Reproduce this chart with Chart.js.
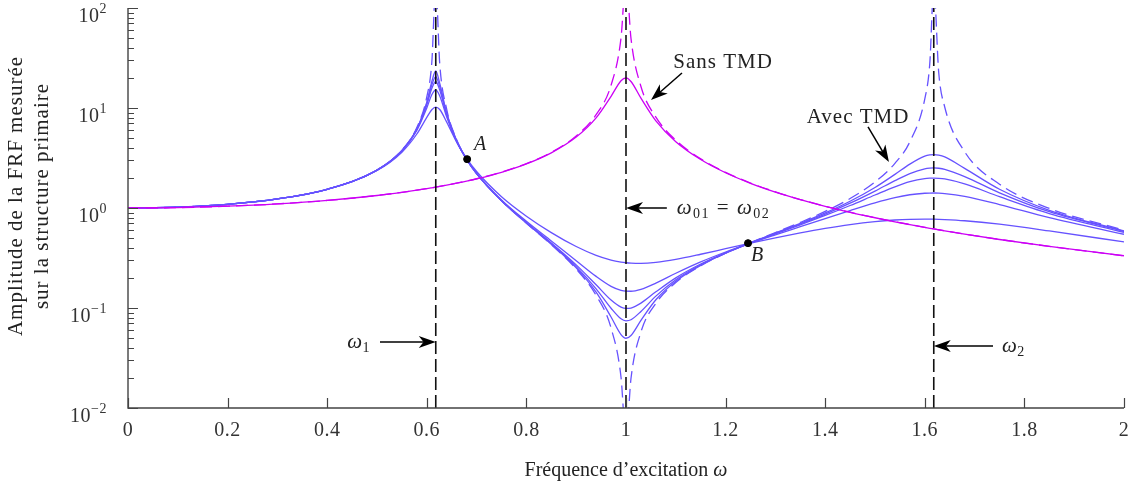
<!DOCTYPE html>
<html>
<head>
<meta charset="utf-8">
<script src="https://cdn.jsdelivr.net/npm/chart.js@4/dist/chart.umd.min.js"></script>
<style>
  html, body { margin: 0; padding: 0; background: #fff; }
  #wrap { width: 1139px; height: 484px; }
</style>
</head>
<body>
<div id="wrap"><canvas id="frf" width="1139" height="484"></canvas></div>
<script>
// excitation frequency (normalised)
const omega = [0, 0.1, 0.2, 0.3, 0.4, 0.5, 0.55, 0.58, 0.6, 0.61, 0.618, 0.626, 0.64, 0.66, 0.68, 0.7, 0.75, 0.8, 0.85, 0.9,
  0.94, 0.97, 0.99, 1.0, 1.01, 1.03, 1.06, 1.1, 1.15, 1.2, 1.25, 1.3, 1.35, 1.4, 1.45, 1.5, 1.54, 1.57, 1.6, 1.61,
  1.618, 1.628, 1.64, 1.68, 1.75, 1.85, 2.0];

// Sans TMD
const sansTmdUndamped = [1, 1.010, 1.042, 1.099, 1.190, 1.333, 1.434, 1.507, 1.563, 1.593, 1.618, 1.644, 1.694, 1.772, 1.860, 1.961, 2.286, 2.778, 3.604, 5.263,
  8.591, 16.92, 50.25, 200, 49.75, 16.42, 8.091, 4.762, 3.101, 2.273, 1.778, 1.449, 1.216, 1.042, 0.907, 0.800, 0.729, 0.683, 0.641, 0.628,
  0.618, 0.606, 0.592, 0.549, 0.485, 0.413, 0.333];
const sansTmd = [1, 1.010, 1.042, 1.099, 1.190, 1.333, 1.433, 1.506, 1.561, 1.591, 1.616, 1.642, 1.691, 1.769, 1.856, 1.956, 2.277, 2.761, 3.562, 5.122,
  7.966, 13.08, 18.75, 20.0, 18.40, 12.54, 7.436, 4.607, 3.053, 2.252, 1.767, 1.443, 1.212, 1.039, 0.905, 0.799, 0.728, 0.682, 0.640, 0.627,
  0.617, 0.605, 0.591, 0.548, 0.484, 0.413, 0.333];

// Avec TMD
const avecTmdUndamped = [1, 1.021, 1.089, 1.233, 1.540, 2.400, 3.791, 6.383, 12.90, 28.34, 165, 27.57, 9.674, 4.822, 3.101, 2.218, 1.179, 0.7053, 0.4299, 0.2455,
  0.1338, 0.06305, 0.02031, 0.005, 0.01971, 0.05761, 0.1115, 0.1801, 0.2647, 0.3530, 0.4514, 0.5684, 0.7177, 0.9245, 1.243, 1.818, 2.797, 4.593, 12.34, 27.78,
  160, 22.49, 10.23, 3.654, 1.731, 0.9904, 0.600];
const avecTmd1 = [1, 1.021, 1.089, 1.233, 1.539, 2.394, 3.759, 6.204, 11.45, 18.32, 23.43, 17.60, 8.854, 4.698, 3.065, 2.205, 1.178, 0.7074, 0.4337, 0.2516,
  0.1438, 0.0813, 0.05426, 0.04981, 0.0531, 0.07513, 0.1208, 0.1852, 0.2670, 0.3531, 0.4487, 0.5615, 0.7029, 0.8928, 1.169, 1.604, 2.168, 2.748, 3.300, 3.397,
  3.420, 3.379, 3.239, 2.490, 1.540, 0.949, 0.590];
const avecTmd2 = [1, 1.021, 1.089, 1.233, 1.539, 2.393, 3.751, 6.156, 11.10, 16.93, 20.61, 16.27, 8.664, 4.671, 3.059, 2.205, 1.182, 0.7117, 0.4391, 0.2593,
  0.1556, 0.0994, 0.07797, 0.07451, 0.07634, 0.09237, 0.1315, 0.1916, 0.2705, 0.3545, 0.4478, 0.5569, 0.6921, 0.8696, 1.117, 1.476, 1.876, 2.212, 2.468, 2.507,
  2.516, 2.498, 2.439, 2.064, 1.419, 0.918, 0.582];
const avecTmd3 = [1, 1.021, 1.089, 1.233, 1.539, 2.392, 3.741, 6.100, 10.74, 15.67, 18.41, 15.10, 8.478, 4.647, 3.057, 2.208, 1.187, 0.7179, 0.4468, 0.2698,
  0.1706, 0.1201, 0.1021, 0.0990, 0.09995, 0.1119, 0.1451, 0.2003, 0.2755, 0.3567, 0.4469, 0.5517, 0.6795, 0.8427, 1.059, 1.349, 1.630, 1.834, 1.969, 1.988,
  1.992, 1.982, 1.951, 1.740, 1.298, 0.881, 0.571];
const avecTmd4 = [1, 1.021, 1.089, 1.233, 1.539, 2.388, 3.717, 5.970, 10.01, 13.57, 15.21, 13.20, 8.123, 4.608, 3.061, 2.221, 1.204, 0.7360, 0.4681, 0.2974,
  0.2071, 0.1648, 0.1503, 0.1473, 0.1470, 0.1538, 0.1774, 0.2225, 0.2891, 0.3632, 0.4457, 0.5399, 0.6508, 0.7838, 0.9434, 1.126, 1.270, 1.357, 1.405, 1.411,
  1.412, 1.407, 1.394, 1.308, 1.082, 0.801, 0.546];
const avecTmd5 = [1, 1.020, 1.089, 1.233, 1.537, 2.370, 3.614, 5.495, 8.064, 9.616, 10.22, 9.662, 7.224, 4.558, 3.135, 2.315, 1.296, 0.8278, 0.5674, 0.4117,
  0.3359, 0.3015, 0.2878, 0.2834, 0.2806, 0.2790, 0.2854, 0.3061, 0.3447, 0.3921, 0.4454, 0.5030, 0.5636, 0.6247, 0.6824, 0.7308, 0.7582, 0.7702, 0.7740, 0.7734,
  0.7723, 0.7701, 0.7663, 0.7457, 0.6885, 0.5897, 0.4578];

// natural frequencies w1, w01 = w02, w2 and the fixed points A, B
const naturalFreqs = [0.618, 1.0, 1.618];
const fixedPoints = [[0.681, 3.08], [1.245, 0.445]];
const fixedPointNames = ['A', 'B'];

// axes
const xTickValues = [0, 0.2, 0.4, 0.6, 0.8, 1, 1.2, 1.4, 1.6, 1.8, 2];
const xTickLabels = ['0', '0.2', '0.4', '0.6', '0.8', '1', '1.2', '1.4', '1.6', '1.8', '2'];
const yTickExponents = [-2, -1, 0, 1, 2];

const BLUE = '#6652ff';
const MAGENTA = '#cc00f5';
const SERIF = "'Liberation Serif', 'DejaVu Serif', serif";

const pts = ys => omega.map((x, i) => ({ x: x, y: ys[i] }));

function curve(ys, color, dashed) {
  return {
    data: pts(ys),
    borderColor: color,
    borderWidth: 1.3,
    borderDash: dashed ? [12, 6] : [],
    pointRadius: 0,
    fill: false,
    cubicInterpolationMode: 'monotone'
  };
}

const datasets = [];
datasets.push({
  type: 'scatter',
  data: fixedPoints.map(p => ({ x: p[0], y: p[1] })),
  backgroundColor: '#000',
  borderColor: '#000',
  pointRadius: 3.5,
  showLine: false
});
naturalFreqs.forEach(f => {
  datasets.push({
    data: [{ x: f, y: 0.01 }, { x: f, y: 100 }],
    borderColor: '#111',
    borderWidth: 1.6,
    borderDash: [13, 5],
    pointRadius: 0
  });
});
datasets.push(curve(sansTmd, MAGENTA, false));
datasets.push(curve(sansTmdUndamped, MAGENTA, true));
datasets.push(curve(avecTmdUndamped, BLUE, true));
[avecTmd1, avecTmd2, avecTmd3, avecTmd4, avecTmd5].forEach(s => datasets.push(curve(s, BLUE, false)));

// draw text made of runs with different fonts
function runs(ctx, parts, x, y, align, spacing) {
  ctx.letterSpacing = (spacing || 0) + 'px';
  let w = 0;
  parts.forEach(p => { ctx.font = p.font; w += ctx.measureText(p.t).width; });
  let cx = align === 'right' ? x - w : align === 'center' ? x - w / 2 : x;
  parts.forEach(p => {
    ctx.font = p.font;
    ctx.fillText(p.t, cx, y + (p.dy || 0));
    cx += ctx.measureText(p.t).width;
  });
  ctx.letterSpacing = '0px';
}

function arrow(ctx, x0, y0, x1, y1) {
  const ang = Math.atan2(y1 - y0, x1 - x0);
  const L = 17, hw = 6;
  ctx.beginPath();
  ctx.moveTo(x0, y0);
  ctx.lineTo(x1 - Math.cos(ang) * L * 0.7, y1 - Math.sin(ang) * L * 0.7);
  ctx.stroke();
  ctx.save();
  ctx.translate(x1, y1);
  ctx.rotate(ang);
  ctx.beginPath();
  ctx.moveTo(0, 0);
  ctx.lineTo(-L, -hw);
  ctx.lineTo(-L * 0.72, 0);
  ctx.lineTo(-L, hw);
  ctx.closePath();
  ctx.fill();
  ctx.restore();
}

const notes = {
  id: 'notes',
  afterDraw(chart) {
    const { ctx, chartArea: a, scales } = chart;
    const X = v => scales.x.getPixelForValue(v);
    const Y = v => scales.y.getPixelForValue(v);
    const reg = s => s + 'px ' + SERIF;
    const ital = s => 'italic ' + s + 'px ' + SERIF;
    ctx.save();

    // axis lines and inward ticks
    ctx.strokeStyle = '#444';
    ctx.lineWidth = 1.4;
    ctx.beginPath();
    ctx.moveTo(a.left, a.top);
    ctx.lineTo(a.left, a.bottom);
    ctx.lineTo(a.right, a.bottom);
    ctx.stroke();
    ctx.lineWidth = 1.2;
    ctx.beginPath();
    xTickValues.forEach(v => { const px = Math.round(X(v)) + 0.5; ctx.moveTo(px, a.bottom); ctx.lineTo(px, a.bottom - 10); });
    yTickExponents.forEach((e, i) => {
      const py = Math.round(Y(Math.pow(10, e))) + 0.5;
      ctx.moveTo(a.left, py); ctx.lineTo(a.left + 10, py);
      if (i < yTickExponents.length - 1) {
        for (let m = 2; m <= 9; m++) {
          const q = Math.round(Y(m * Math.pow(10, e))) + 0.5;
          ctx.moveTo(a.left, q); ctx.lineTo(a.left + 6, q);
        }
      }
    });
    ctx.stroke();

    // tick labels
    ctx.fillStyle = '#333';
    ctx.textBaseline = 'alphabetic';
    ctx.textAlign = 'left';
    xTickValues.forEach((v, i) => runs(ctx, [{ t: xTickLabels[i], font: reg(20) }], X(v), a.bottom + 28, 'center', 0.5));
    yTickExponents.forEach(e => {
      const py = Y(Math.pow(10, e));
      const ex = e < 0 ? '\u2212' + (-e) : String(e);
      runs(ctx, [{ t: '10', font: reg(20) }, { t: ex, font: reg(14), dy: -9 }], a.left - 21, py + 14, 'right', 0.5);
    });

    // axis titles
    ctx.fillStyle = '#222';
    runs(ctx, [{ t: 'Fr\u00e9quence d\u2019excitation ', font: reg(20) }, { t: '\u03c9', font: ital(20) }], (a.left + a.right) / 2, a.bottom + 68, 'center');
    ctx.save();
    ctx.translate(22, 196);
    ctx.rotate(-Math.PI / 2);
    runs(ctx, [{ t: 'Amplitude de la FRF mesur\u00e9e', font: reg(21) }], 0, 0, 'center', 1);
    runs(ctx, [{ t: 'sur la structure primaire', font: reg(21) }], 0, 26, 'center', 1);
    ctx.restore();

    // fixed point names
    runs(ctx, [{ t: fixedPointNames[0], font: ital(20) }], X(0.695), Y(3.8), 'left');
    runs(ctx, [{ t: fixedPointNames[1], font: ital(20) }], X(1.251), Y(0.295), 'left');

    // arrows and their labels
    ctx.strokeStyle = '#000';
    ctx.fillStyle = '#000';
    ctx.lineWidth = 1.5;
    arrow(ctx, X(0.506), Y(0.0457), X(naturalFreqs[0]), Y(0.0457));
    arrow(ctx, X(1.082), Y(1.0), X(naturalFreqs[1]), Y(1.0));
    arrow(ctx, X(1.737), Y(0.0417), X(naturalFreqs[2]), Y(0.0417));
    arrow(ctx, X(1.1124), Y(22.4), X(1.0502), Y(12.0));
    arrow(ctx, X(1.486), Y(6.46), X(1.528), Y(2.88));

    ctx.fillStyle = '#222';
    runs(ctx, [{ t: '\u03c9', font: ital(21) }, { t: '1', font: reg(14), dy: 4 }], X(0.486), Y(0.0457) + 6, 'right', 0.5);
    runs(ctx, [{ t: '\u03c9', font: ital(21) }, { t: '01', font: reg(14), dy: 4 }, { t: ' = ', font: reg(21) },
      { t: '\u03c9', font: ital(21) }, { t: '02', font: reg(14), dy: 4 }], X(1.102), Y(1.0) + 6, 'left', 1.5);
    runs(ctx, [{ t: '\u03c9', font: ital(21) }, { t: '2', font: reg(14), dy: 4 }], X(1.755), Y(0.0417) + 6, 'left', 0.5);
    runs(ctx, [{ t: 'Sans TMD', font: reg(21) }], X(1.1948), Y(25.1), 'center', 1);
    runs(ctx, [{ t: 'Avec TMD', font: reg(21) }], X(1.466), Y(7.08), 'center', 1);
    ctx.restore();
  }
};

new Chart(document.getElementById('frf').getContext('2d'), {
  type: 'line',
  data: { datasets: datasets },
  options: {
    responsive: false,
    animation: false,
    layout: { padding: { top: 8, right: 15, left: 0, bottom: 0 } },
    plugins: { legend: { display: false }, tooltip: { enabled: false } },
    scales: {
      x: {
        type: 'linear', min: 0, max: 2,
        ticks: { display: false }, grid: { display: false }, border: { display: false },
        afterFit: s => { s.height = 76; }
      },
      y: {
        type: 'logarithmic', min: 0.01, max: 100,
        ticks: { display: false }, grid: { display: false }, border: { display: false },
        afterFit: s => { s.width = 128; }
      }
    }
  },
  plugins: [notes]
});
</script>
</body>
</html>
